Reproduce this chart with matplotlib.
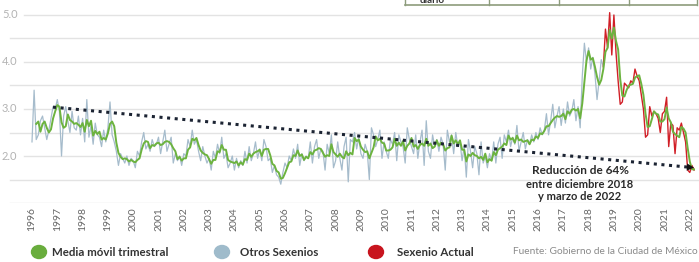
import numpy as np
import pandas as pd
import matplotlib
matplotlib.use("Agg")
import matplotlib.pyplot as plt
from matplotlib.patches import Ellipse
from matplotlib.lines import Line2D

plt.rcParams["font.family"] = ["Lato", "DejaVu Sans"]

# Datos mensuales desde enero de 1996
inicio = 1996
otros_sexenios = [
    2.30, 3.40, 2.35, 2.45, 2.75, 2.85, 2.60, 2.35, 2.55, 2.80, 3.05, 3.00,  # 1996
    3.20, 2.95, 2.00, 2.85, 3.05, 2.75, 2.50, 2.95, 2.60, 2.55, 2.85, 2.45,  # 1997
    2.80, 2.30, 3.20, 2.40, 2.65, 2.25, 2.70, 2.45, 2.40, 2.20, 2.55, 2.30,  # 1998
    2.60, 3.15, 2.45, 2.30, 2.10, 1.80, 2.05, 1.95, 1.85, 2.00, 1.80, 1.95,  # 1999
    1.90, 1.75, 2.10, 2.00, 2.30, 2.50, 2.15, 2.25, 2.10, 2.35, 2.20, 2.25,  # 2000
    2.40, 2.05, 2.30, 2.55, 2.10, 2.25, 2.40, 1.85, 2.05, 1.90, 2.00, 1.80,  # 2001
    2.05, 2.00, 2.35, 2.20, 2.55, 2.25, 2.35, 2.10, 1.90, 2.20, 2.00, 1.85,  # 2002
    1.95, 1.70, 2.10, 1.95, 2.25, 2.05, 2.40, 1.95, 2.05, 1.75, 1.85, 2.00,  # 2003
    1.70, 1.95, 1.75, 1.90, 1.80, 2.10, 1.85, 2.20, 1.90, 2.05, 2.30, 1.95,  # 2004
    2.15, 1.90, 2.35, 2.20, 1.90, 1.95, 1.65, 1.80, 1.60, 1.55, 1.40, 1.65,  # 2005
    1.85, 1.75, 2.00, 1.90, 2.15, 1.95, 2.25, 1.80, 2.05, 1.90, 2.00, 1.95,  # 2006
    2.30, 1.85, 2.20, 2.35, 1.95, 2.15, 2.10, 1.70, 2.25, 2.05, 2.45, 1.75,  # 2007
    1.90, 2.30, 1.95, 1.70, 2.20, 2.40, 1.45, 2.35, 2.30, 2.50, 2.15, 2.40,  # 2008
    2.05, 1.95, 2.25, 2.10, 1.50, 2.60, 2.45, 2.20, 2.35, 2.55, 1.95, 2.30,  # 2009
    2.10, 1.95, 2.35, 2.25, 2.50, 1.90, 2.45, 2.30, 2.20, 1.85, 2.60, 2.35,  # 2010
    2.20, 2.05, 2.45, 1.95, 2.30, 2.55, 1.80, 2.75, 2.10, 1.95, 2.45, 2.20,  # 2011
    2.35, 2.10, 2.40, 2.25, 1.70, 2.55, 2.30, 2.45, 2.05, 2.50, 2.20, 2.30,  # 2012
    1.90, 2.20, 1.55, 2.35, 2.10, 1.75, 2.20, 2.05, 1.60, 2.30, 1.85, 2.00,  # 2013
    1.75, 2.05, 1.90, 2.30, 1.85, 2.25, 2.40, 1.95, 2.45, 2.30, 2.55, 2.20,  # 2014
    2.40, 2.25, 2.65, 2.10, 2.30, 2.50, 2.15, 2.35, 2.25, 2.45, 2.30, 2.50,  # 2015
    2.35, 2.60, 2.45, 2.55, 2.90, 2.45, 2.75, 3.10, 2.60, 2.85, 3.05, 2.65,  # 2016
    3.00, 2.70, 3.15, 2.85, 2.95, 3.20, 2.75, 3.05, 2.60, 3.70, 4.40, 4.00,  # 2017
    4.30, 3.85, 4.10, 3.75, 3.20, 3.60, 4.05, 3.90,                          # 2018 ene-ago
]
sexenio_actual = [
    4.70, 4.30, 5.05, 4.15,                                                  # 2018 sep-dic
    5.00, 4.20, 3.60, 3.10, 3.15, 3.55, 3.50, 3.45, 3.60, 3.55, 3.85, 3.70,  # 2019
    3.60, 3.30, 3.00, 2.40, 2.45, 3.05, 2.85, 2.95, 2.90, 2.80, 2.50, 2.90,  # 2020
    2.95, 3.25, 2.20, 2.70, 2.65, 2.05, 2.60, 2.55, 2.70, 2.50, 2.30, 1.70,  # 2021
    1.65, 1.80, 1.70,                                                        # 2022 ene-mar
]
tendencia_x = [1996.83, 2022.0]
tendencia_y = [3.04, 1.76]
anios = list(range(1996, 2023))
niveles_y = [2.0, 3.0, 4.0, 5.0]

serie = pd.Series(otros_sexenios + sexenio_actual)
fechas = inicio + np.arange(len(serie)) / 12.0
media_movil = serie.rolling(3).mean()
n_otros = len(otros_sexenios)

W, H = 699, 262
angosta = ["Liberation Sans Narrow", "Lato", "DejaVu Sans"]
fig = plt.figure(figsize=(W / 100, H / 100), dpi=100)
ax = fig.add_axes([0, 1 - 203 / H, 1, 198 / H])
ax.set_xlim(1996 - 32 / 25.3, 1996 + 667 / 25.3)
ax.set_ylim(1.0, 5.0 + 10 / 47)
for s in ax.spines.values():
    s.set_visible(False)

# rejilla
for v in np.arange(1.0, 5.01, 0.5):
    x0 = 24 / W if v in niveles_y else 10 / W
    ax.axhline(v, xmin=x0, xmax=1, color="#e3e3e3", lw=1.0, zorder=0)
for v in niveles_y:
    ax.text(2 / W, v, f"{v:.1f}", transform=ax.get_yaxis_transform(),
            ha="left", va="center", fontsize=8, color="#b3b3b3")

ax.set_yticks([])
ax.set_xticks(anios)
ax.set_xticklabels([str(a) for a in anios], rotation=90, fontsize=7.5, color="#666666",
                   family=angosta)
ax.tick_params(axis="x", length=0, pad=3)

# series
ax.plot(fechas[:n_otros], serie[:n_otros], color="#a6bccc", lw=0.9, zorder=2)
ax.plot(fechas[n_otros - 1:], serie[n_otros - 1:], color="#d11f27", lw=1.0, zorder=3)
ax.plot(fechas, media_movil, color="#6cb33f", lw=1.4, zorder=4)

# tendencia
ax.plot(tendencia_x, tendencia_y, color="#1c2433", lw=2.2, linestyle=(0, (1, 1.5)),
        zorder=5, solid_capstyle="butt")
ax.annotate("", xy=(tendencia_x[1] + 0.28, tendencia_y[1] - 0.012),
            xytext=(tendencia_x[1] - 0.1, tendencia_y[1] + 0.004),
            arrowprops=dict(arrowstyle="-|>", color="#111111", lw=0, mutation_scale=13),
            zorder=6)

# texto de la reducción
for txt, yy, fs in [("Reducción de 64%", 171, 8.5),
                    ("entre diciembre 2018", 184, 8),
                    ("y marzo de 2022", 196, 8)]:
    fig.text(580 / W, 1 - yy / H, txt, ha="center", va="center", fontsize=fs,
             weight="bold", color="#2a2a2a")

# tabla recortada arriba
for xx in [405, 489, 559, 629, 697]:
    fig.add_artist(Line2D([xx / W, xx / W], [1, 1 - 5 / H], transform=fig.transFigure,
                          color="#8d9c7c", lw=1.0))
fig.add_artist(Line2D([405 / W, 697 / W], [1 - 5 / H, 1 - 5 / H], transform=fig.transFigure,
                      color="#8d9c7c", lw=1.2))
fig.text(432 / W, 1 - 0.5 / H, "diario", ha="center", va="center", fontsize=7,
         weight="bold", color="#333333")

# leyenda
leyenda = [(39, "#69ad3d", "Media móvil trimestral", 52),
           (222, "#9fbbcb", "Otros Sexenios", 240),
           (376, "#c8141e", "Sexenio Actual", 397)]
for cx, col, lab, tx in leyenda:
    fig.add_artist(Ellipse((cx / W, 1 - 252 / H), 15 / W, 13 / H,
                           transform=fig.transFigure, color=col))
    fig.text(tx / W, 1 - 252 / H, lab, ha="left", va="center", fontsize=8.3,
             weight="bold", color="#333333")
fig.text(513 / W, 1 - 251 / H, "Fuente: Gobierno de la Ciudad de México", ha="left",
         va="center", fontsize=7.3, color="#8a8a8a", family=angosta)

fig.savefig("out.png", dpi=100)
